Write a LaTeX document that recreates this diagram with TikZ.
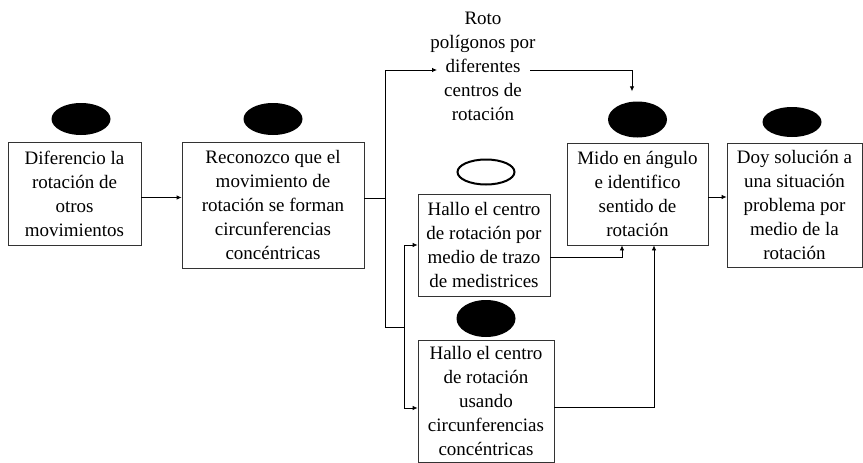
\documentclass[tikz,border=0pt]{standalone}
\usepackage{fontspec}
\setmainfont{Liberation Serif}
\usetikzlibrary{shapes.geometric,arrows.meta}
\tikzstyle{paso}=[draw=black!80, line width=0.8pt, align=center, inner sep=2pt, font=\fontsize{19}{24}\selectfont]
\tikzstyle{marca}=[ellipse, fill=black, minimum width=59pt, minimum height=32pt, inner sep=0pt]
\tikzstyle{flecha}=[line width=0.8pt, -{Latex[length=5pt,width=4.5pt]}]
\tikzstyle{linea}=[line width=0.8pt]
\begin{document}
\begin{tikzpicture}[x=1pt, y=-1pt]
    \useasboundingbox (0,0) rectangle (863,463);
    \node[paso, minimum width=133pt, minimum height=103pt] (dif) at (74.5,193.5) {Diferencio la\\rotación de\\otros\\movimientos};
    \node[paso, minimum width=182pt, minimum height=126pt] (rec) at (273,205) {Reconozco que el\\movimiento de\\rotación se forman\\circunferencias\\concéntricas};
    \node[paso, minimum width=132pt, minimum height=102pt] (cen1) at (484,245) {Hallo el centro\\de rotación por\\medio de trazo\\de medistrices};
    \node[paso, minimum width=136pt, minimum height=122pt] (cen2) at (486,401) {Hallo el centro\\de rotación\\usando\\circunferencias\\concéntricas};
    \node[paso, minimum width=141pt, minimum height=102pt] (mido) at (637.5,194) {Mido en ángulo\\e identifico\\sentido de\\rotación};
    \node[paso, minimum width=135pt, minimum height=124pt] (doy) at (794.5,205) {Doy solución a\\una situación\\problema por\\medio de la\\rotación};
    \node[align=center, inner sep=0pt, font=\fontsize{19}{24}\selectfont] (roto) at (483,66) {Roto\\polígonos por\\diferentes\\centros de\\rotación};
    \node[marca] (m1) at (81,119) {};
    \node[marca] (m2) at (273,119) {};
    \node[marca, fill=white, draw=black, line width=2pt, minimum width=57pt, minimum height=25pt] (m3) at (486,172) {};
    \node[marca, minimum height=36pt] (m4) at (637.5,119.5) {};
    \node[marca, minimum height=37pt] (m5) at (486,318.5) {};
    \node[marca, minimum height=30pt] (m6) at (792,122) {};
    \coordinate (ramal) at (385,198);
    \coordinate (ramal2) at (404,327);
    \draw[flecha] ([shift={(0,4)}]dif.east) -- ([shift={(0,-7.5)}]rec.west);
    \draw[linea] ([shift={(0,-7)}]rec.east) -- (ramal);
    \draw[flecha] (ramal) |- ([shift={(-46,4)}]roto.center);
    \draw[linea] (ramal) |- (ramal2);
    \draw[flecha] (ramal2) |- (cen1.west);
    \draw[flecha] (ramal2) |- ([shift={(0,7)}]cen2.west);
    \draw[flecha] ([shift={(47,4)}]roto.center) -| ([shift={(-5.5,-10)}]m4.north);
    \draw[flecha] ([shift={(0,12)}]cen1.east) -| ([shift={(-15.5,0)}]mido.south);
    \draw[flecha] ([shift={(0,6)}]cen2.east) -| ([shift={(16.5,0)}]mido.south);
    \draw[flecha] ([shift={(0,3)}]mido.east) -- ([shift={(0,-8)}]doy.west);
\end{tikzpicture}
\end{document}
